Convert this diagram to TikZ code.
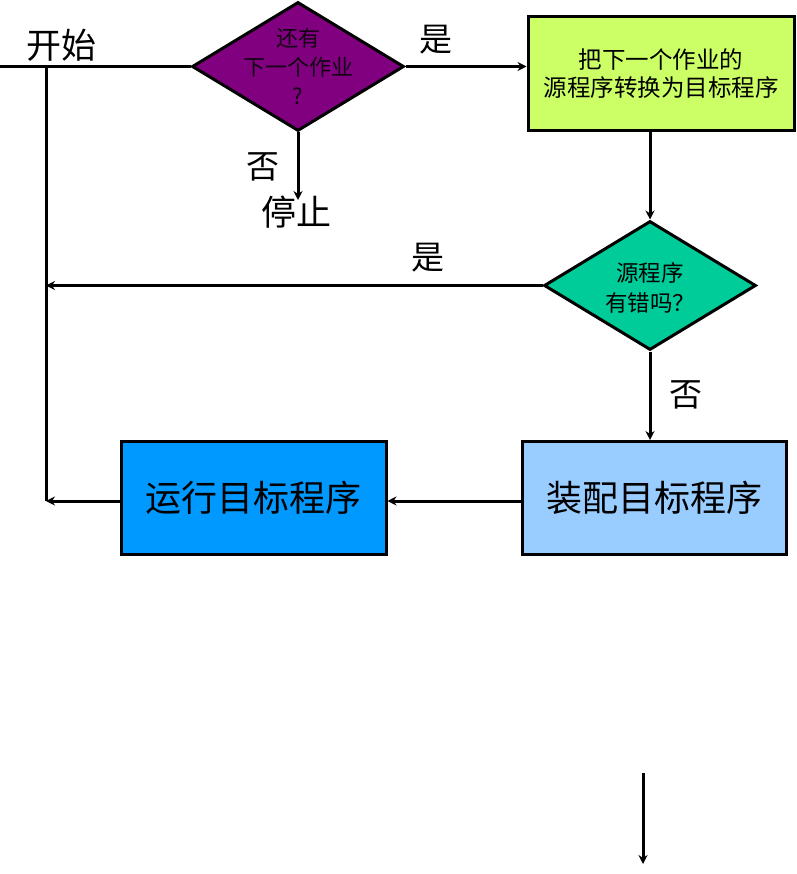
\documentclass[tikz,border=0pt]{standalone}
\usepackage{fontspec}
\setmainfont{Noto Sans CJK SC}
\usetikzlibrary{arrows.meta}
\usetikzlibrary{shapes.geometric}

\definecolor{askpurple}{RGB}{128,0,128}
\definecolor{convertlime}{RGB}{204,255,102}
\definecolor{checkgreen}{RGB}{0,204,153}
\definecolor{loadblue}{RGB}{153,204,255}
\definecolor{runblue}{RGB}{0,153,255}

\tikzset{
	line/.style={line width=3pt},
	flow/.style={line width=3pt, -{Stealth[length=9pt,width=9pt]}},
	decide/.style={diamond, draw, line width=3pt, minimum width=212pt, minimum height=129pt, inner sep=0pt},
	inside/.style={align=center, font=\fontsize{22}{29}\selectfont},
	stepbox/.style={rectangle, draw, line width=3pt, inner sep=0pt, align=center},
	answer/.style={font=\fontsize{33}{35}\selectfont}
}

\begin{document}
\begin{tikzpicture}[x=1pt, y=-1pt]
		\useasboundingbox (0, 0) rectangle (796, 874);
		\node [decide, fill=askpurple] (more) at (298, 66.5) {};
		\node [inside, text=black!85!askpurple] (moretext) at (more.center) {还有\\下一个作业\\?};
		\node [stepbox, fill=convertlime, minimum width=266pt, minimum height=114pt, font=\fontsize{23.5}{28}\selectfont] (convert) at (661, 74) {把下一个作业的\\源程序转换为目标程序};
		\node [decide, fill=checkgreen] (check) at (650, 285.5) {};
		\node [inside, font=\fontsize{22.5}{30}\selectfont] (checktext) at ([yshift=-2pt]check.center) {源程序\\有错吗？};
		\node [stepbox, fill=loadblue, minimum width=264pt, minimum height=113pt, font=\fontsize{36}{38}\selectfont] (load) at (654, 498) {装配目标程序};
		\node [stepbox, fill=runblue, minimum width=265pt, minimum height=113pt, font=\fontsize{36}{38}\selectfont] (run) at (253.5, 498) {运行目标程序};
		\node [font=\fontsize{35}{37}\selectfont] (begin) at (61, 45) {开始};
		\node [answer] (yes1) at (436, 40) {是};
		\node [answer] (no1) at (263, 167) {否};
		\node [font=\fontsize{35}{37}\selectfont] (halt) at (296, 212) {停止};
		\node [answer] (yes2) at (428, 258) {是};
		\node [answer] (no2) at (686, 395) {否};
		\coordinate (entry) at (0, 66.5);
		\coordinate (corner) at (46, 66.5);
		\coordinate (floor) at (46, 501);
		\coordinate (stop) at (298, 200);
		\coordinate (tail) at (643, 773);
		\coordinate (head) at (643, 864);
		% main loop
		\draw [line] (entry) -- (more.west);
		\draw [line] (corner) -- (floor);
		\draw [flow] (more.east) -- (more.east -| convert.west);
		\draw [flow] (more.south) -- (stop);
		\draw [flow] (check.north |- convert.south) -- (check.north);
		\draw [flow] (check.west) -- (check.west -| corner);
		\draw [flow] (check.south) -- (check.south |- load.north);
		\draw [flow] ([yshift=-3pt]load.west) -- ([yshift=-3pt]run.east);
		\draw [flow] ([yshift=-3pt]run.west) -- ([yshift=-3pt]run.west -| corner);
		\draw [flow] (tail) -- (head);
	\end{tikzpicture}
\end{document}
